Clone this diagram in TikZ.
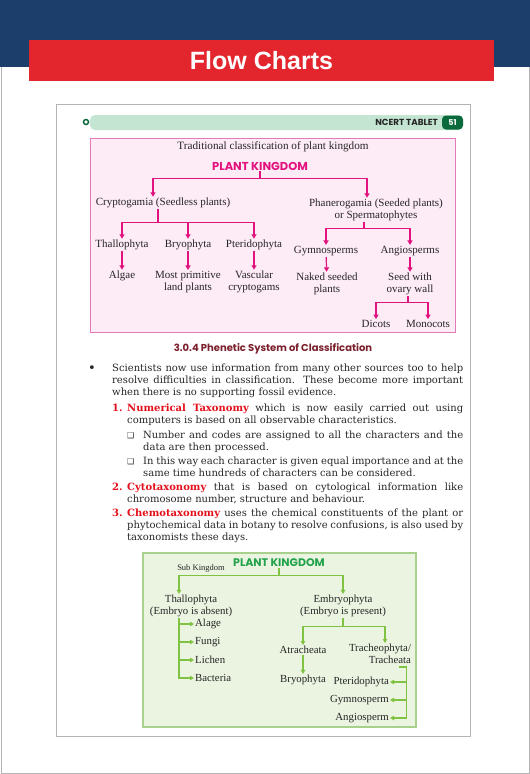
\documentclass[tikz,border=0pt]{standalone}
\usepackage{fontspec}
\setmainfont{Liberation Serif}
\newfontfamily\bodyfont{DejaVu Serif}
\newfontfamily\headfont{Poppins}
\newfontfamily\titlefont{Liberation Sans}
\newfontfamily\symfont{DejaVu Sans}
\usepackage{tikz}
\usetikzlibrary{arrows.meta}
\definecolor{navyband}{HTML}{1B3E6A}
\definecolor{titlered}{HTML}{E3262E}
\definecolor{pinkline}{HTML}{E2137F}
\definecolor{pinkframe}{HTML}{E27AB5}
\definecolor{pinkfill}{HTML}{FDEBF6}
\definecolor{greenline}{HTML}{80C342}
\definecolor{greenframe}{HTML}{A9D18E}
\definecolor{greenfill}{HTML}{EBF4E1}
\definecolor{greentitle}{HTML}{22A34B}
\definecolor{stripgreen}{HTML}{C4E5D2}
\definecolor{darkgreen}{HTML}{0B6A3B}
\definecolor{headmaroon}{HTML}{7A1F2B}
\definecolor{termred}{HTML}{E3101B}
\definecolor{pagegray}{HTML}{B3B3B3}
\newcommand{\redterm}[1]{\textbf{\color{termred}#1}}
\tikzset{
  ptxt/.style={font=\fontsize{11}{12}\selectfont, text=black!85, align=center, inner sep=1pt},
  gtxt/.style={font=\fontsize{10.8}{12}\selectfont, text=black!85, align=center, inner sep=1pt},
  pline/.style={draw=pinkline, line width=1.2pt},
  parr/.style={pline, -{Triangle[length=4.5pt,width=5pt]}},
  gline/.style={draw=greenline, line width=1.2pt},
  garr/.style={gline, -{Triangle[length=4pt,width=4.5pt]}},
  bline/.style={anchor=base west, inner sep=0pt, font=\bodyfont\fontsize{10}{12}\selectfont, text=black!85},
  sqmark/.style={anchor=base west, inner sep=0pt, font=\symfont\fontsize{8}{12}\selectfont, text=black!85},
  kingdom/.style={font=\headfont\bfseries\fontsize{11.5}{13}\selectfont, inner sep=1pt},
}

\begin{document}
\begin{tikzpicture}[x=1pt,y=-1pt]
\useasboundingbox (0,0) rectangle (530,774);
\draw[pagegray, line width=1pt] (1,0) -- (1,773) -- (529,773) -- (529,0);
\fill[navyband] (0,0) rectangle (530,67);
\fill[titlered] (29,40) rectangle (494,81);
\node[font=\titlefont\bfseries\fontsize{25}{30}\selectfont, text=white] (title) at (261.5,61) {Flow Charts};
\draw[pagegray, line width=1pt] (56,104) rectangle (470,736);
\fill[stripgreen, rounded corners=5pt] (90,115) rectangle (463,130);
\draw[darkgreen, line width=1.5pt] (86,122) circle (2.5);
\node[fill=darkgreen, rounded corners=4pt, text=white, font=\headfont\bfseries\fontsize{8}{9}\selectfont, minimum width=21pt, minimum height=14pt, inner sep=0pt] (pgno) at (452.5,122.5) {51};
\node[anchor=east, font=\headfont\bfseries\fontsize{8.8}{10}\selectfont, text=black!85, inner sep=0pt] (tablet) at (438,122.5) {NCERT TABLET};

\draw[pinkframe, fill=pinkfill, line width=1pt] (90,138) rectangle (455,332);
\node[ptxt, font=\fontsize{11.2}{12}\selectfont] (trad) at (273,147) {Traditional classification of plant kingdom};
\node[kingdom, text=pinkline] (pkA) at (260,166) {PLANT KINGDOM};
\node[ptxt] (crypt) at (163,203) {Cryptogamia (Seedless plants)};
\node[ptxt] (phan) at (376,210) {Phanerogamia (Seeded plants)\\or Spermatophytes};
\node[ptxt] (thal) at (122,245) {Thallophyta};
\node[ptxt] (bryo) at (188,245) {Bryophyta};
\node[ptxt] (pter) at (254,245) {Pteridophyta};
\node[ptxt] (algae) at (122,276) {Algae};
\node[ptxt] (prim) at (188,282) {Most primitive\\land plants};
\node[ptxt] (vasc) at (254,282) {Vascular\\cryptogams};
\node[ptxt] (gymno) at (326,251) {Gymnosperms};
\node[ptxt] (angio) at (410,251) {Angiosperms};
\node[ptxt] (naked) at (327,284) {Naked seeded\\plants};
\node[ptxt] (seedw) at (410,284) {Seed with\\ovary wall};
\node[ptxt] (dicot) at (376,324) {Dicots};
\node[ptxt] (monoc) at (428,324) {Monocots};
\draw[pline] (pkA.south) -- ++(0,7) coordinate (pkbus);
\draw[parr] (pkbus) -| ([xshift=-10pt]crypt.north);
\draw[parr] (pkbus) -| ([xshift=-9pt]phan.north);
\draw[pline] ([xshift=-5pt]crypt.south) -- ++(0,13) coordinate (crbus);
\draw[parr] (crbus) -| (thal);
\draw[parr] (crbus) -| (bryo);
\draw[parr] (crbus) -| (pter);
\draw[parr] (thal) -- (algae);
\draw[parr] (bryo) -- (prim);
\draw[parr] (pter) -- (vasc);
\draw[pline] ([xshift=-12pt]phan.south) -- ++(0,6) coordinate (phbus);
\draw[parr] (phbus) -| (gymno);
\draw[parr] (phbus) -| (angio);
\draw[parr] (gymno) -- (naked);
\draw[parr] (angio) -- (seedw);
\draw[pline] ([xshift=-2pt]seedw.south) -- ++(0,6) coordinate (swbus);
\draw[parr] (swbus) -| (dicot);
\draw[parr] (swbus) -| (monoc);

\node[font=\headfont\bfseries\fontsize{10}{12}\selectfont, text=headmaroon] (phenetic) at (273,349) {3.0.4 Phenetic System of Classification};
\node[bline, font=\bodyfont\fontsize{13}{12}\selectfont] (bullet) at (88,372) {•};
\node[bline] (l1) at (112,371) {\makebox[351pt][s]{Scientists now use information from many other sources too to help}};
\node[bline] (l2) at (112,383) {\makebox[351pt][s]{resolve difficulties in classification. These become more important}};
\node[bline] (l3) at (112,395) {when there is no supporting fossil evidence.};
\node[bline] (n1) at (112,411) {\redterm{1.}};
\node[bline] (l4) at (127,411) {\makebox[336pt][s]{\redterm{Numerical Taxonomy} which is now easily carried out using}};
\node[bline] (l5) at (127,423) {computers is based on all observable characteristics.};
\node[sqmark] (sq1) at (127,438) {❑};
\node[bline] (l6) at (143,438) {\makebox[320pt][s]{Number and codes are assigned to all the characters and the}};
\node[bline] (l7) at (143,450) {data are then processed.};
\node[sqmark] (sq2) at (127,464) {❑};
\node[bline] (l8) at (143,464) {\makebox[320pt][s]{In this way each character is given equal importance and at the}};
\node[bline] (l9) at (143,476) {same time hundreds of characters can be considered.};
\node[bline] (n2) at (112,490) {\redterm{2.}};
\node[bline] (l10) at (127,490) {\makebox[336pt][s]{\redterm{Cytotaxonomy} that is based on cytological information like}};
\node[bline] (l11) at (127,502) {chromosome number, structure and behaviour.};
\node[bline] (n3) at (112,516) {\redterm{3.}};
\node[bline] (l12) at (127,516) {\makebox[336pt][s]{\redterm{Chemotaxonomy} uses the chemical constituents of the plant or}};
\node[bline] (l13) at (127,528) {\makebox[336pt][s]{phytochemical data in botany to resolve confusions, is also used by}};
\node[bline] (l14) at (127,540) {taxonomists these days.};

\draw[greenframe, fill=greenfill, line width=1.2pt] (143,553) rectangle (416,727);
\node[kingdom, text=greentitle, font=\headfont\bfseries\fontsize{11}{13}\selectfont] (pkB) at (279,563) {PLANT KINGDOM};
\node[gtxt, font=\fontsize{8.5}{9}\selectfont] (subk) at (201,568) {Sub Kingdom};
\node[gtxt] (thalB) at (191,606) {Thallophyta\\(Embryo is absent)};
\node[gtxt] (embr) at (343,606) {Embryophyta\\(Embryo is present)};
\node[gtxt, anchor=west] (alage) at (194,624) {Alage};
\node[gtxt, anchor=west] (fungi) at (194,642) {Fungi};
\node[gtxt, anchor=west] (lichen) at (194,660) {Lichen};
\node[gtxt, anchor=west] (bact) at (194,678) {Bacteria};
\node[gtxt] (atrach) at (303,650) {Atracheata};
\node[gtxt, align=right] (trach) at (380,654) {Tracheophyta/\\Tracheata};
\node[gtxt] (bryoB) at (303,680) {Bryophyta};
\node[gtxt, anchor=east] (pterB) at (390,682) {Pteridophyta};
\node[gtxt, anchor=east] (gymB) at (390,700) {Gymnosperm};
\node[gtxt, anchor=east] (angB) at (390,718) {Angiosperm};
\draw[gline] (pkB.south) -- ++(0,7) coordinate (pkbusB);
\draw[garr] (pkbusB) -| ([xshift=-12pt]thalB.north);
\draw[garr] (pkbusB) -| (embr);
\draw[garr] ([xshift=-12pt]thalB.south) |- (alage);
\draw[garr] ([xshift=-12pt]thalB.south) |- (fungi);
\draw[garr] ([xshift=-12pt]thalB.south) |- (lichen);
\draw[garr] ([xshift=-12pt]thalB.south) |- (bact);
\draw[gline] (embr.south) -- ++(0,8) coordinate (embus);
\draw[garr] (embus) -| (atrach);
\draw[garr] (embus) -| ([xshift=5pt]trach.north);
\draw[garr] (atrach) -- (bryoB);
\coordinate (tk) at ([xshift=-6pt,yshift=-2pt]trach.south east);
\draw[garr] ([xshift=-7pt]tk) -- (tk) |- (angB);
\draw[garr] (tk) |- (pterB);
\draw[garr] (tk) |- (gymB);
\end{tikzpicture}
\end{document}
